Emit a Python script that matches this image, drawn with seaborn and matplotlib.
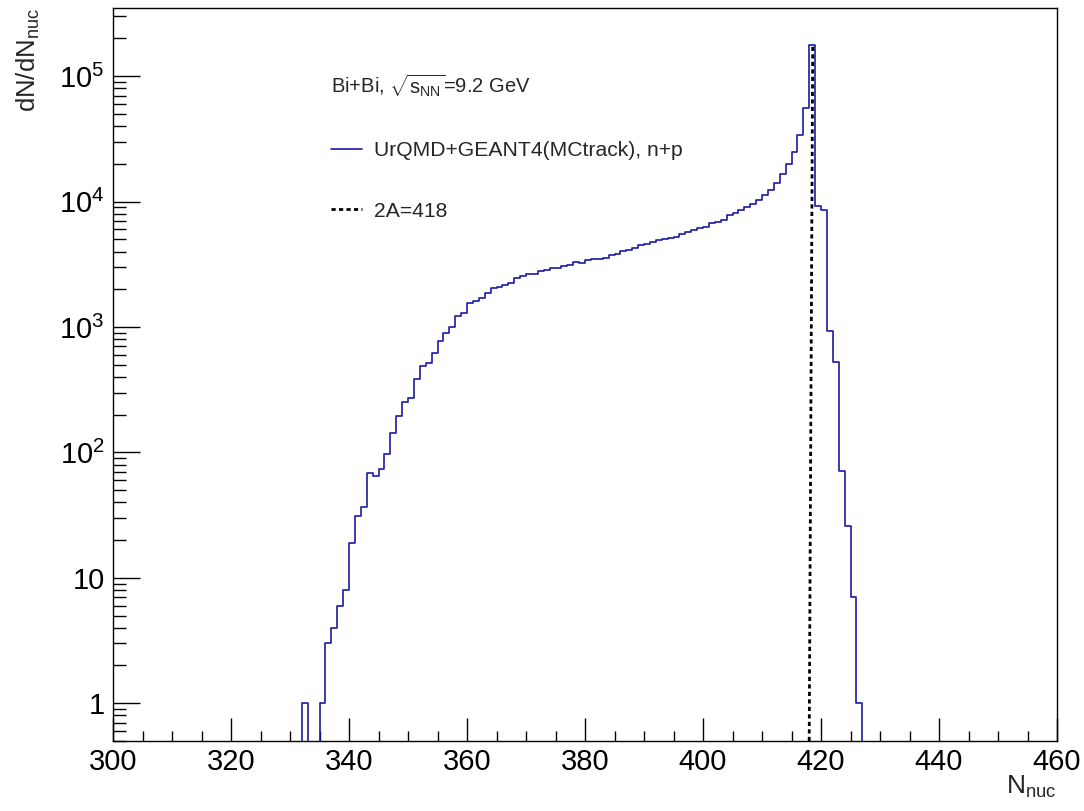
import numpy as np
import pandas as pd
import matplotlib
matplotlib.use("Agg")
import matplotlib.pyplot as plt
import seaborn as sns
from matplotlib.lines import Line2D
from matplotlib.ticker import LogLocator, MultipleLocator, FuncFormatter, NullFormatter

# number of nucleons (bin left edge, bin width 1) and entries per bin
n_nuc = list(range(332, 427))
counts = [
    1, 0, 0, 1, 3, 4, 6, 8, 19, 31,                          # 332-341
    37, 68, 65, 74, 97, 143, 194, 254, 273, 385,             # 342-351
    485, 515, 620, 772, 894, 1009, 1235, 1292, 1541, 1610,   # 352-361
    1690, 1862, 2040, 2090, 2168, 2262, 2450, 2540, 2635, 2635,  # 362-371
    2800, 2870, 2930, 2930, 3070, 3140, 3300, 3220, 3430, 3490,  # 372-381
    3490, 3550, 3760, 3830, 4040, 4100, 4250, 4480, 4600, 4800,  # 382-391
    4900, 5000, 5120, 5250, 5520, 5720, 5990, 6200, 6280, 6800,  # 392-401
    6860, 7150, 7860, 8150, 8600, 9100, 9650, 10300, 11200, 12300,  # 402-411
    14100, 16600, 19900, 25000, 34000, 55500, 178000, 9300, 8600, 930,  # 412-421
    524, 71, 26, 7, 1,                                       # 422-426
]
a2 = 418          # 2A for Bi+Bi
x_range = (300, 460)
y_range = (0.5, 3.5e5)

label_sys = r"Bi+Bi, $\sqrt{s_{NN}}$=9.2 GeV"
label_hist = "UrQMD+GEANT4(MCtrack), n+p"
label_line = "2A=418"

hist_color = "#1a1aa6"

sns.set_theme(style="white")
plt.rcParams["font.family"] = ["Liberation Sans", "DejaVu Sans"]
plt.rcParams["mathtext.fontset"] = "custom"
plt.rcParams["mathtext.rm"] = "Liberation Sans"
plt.rcParams["mathtext.it"] = "Liberation Sans:italic"
plt.rcParams["mathtext.default"] = "regular"

df = pd.DataFrame({"n_nuc": n_nuc, "counts": counts})

fig, ax = plt.subplots(figsize=(10.84, 8.11), dpi=100)
fig.subplots_adjust(left=113 / 1084, right=1057 / 1084, bottom=1 - 741 / 811, top=1 - 8 / 811)

sns.histplot(data=df, x="n_nuc", weights="counts",
             binwidth=1, binrange=x_range,
             element="step", fill=False, color=hist_color, linewidth=1.2, ax=ax)

ax.set_yscale("log")
ax.set_xlim(*x_range)
ax.set_ylim(*y_range)

# 2A line, it leans slightly in the original plot
lean = 0.6
ax.plot([a2, a2 + lean], [y_range[0], max(counts)], color="black",
        lw=2, linestyle=(0, (1.5, 1.2)))

# axes styling (ROOT look)
for s in ax.spines.values():
    s.set_color("black")
    s.set_linewidth(1.0)
ax.xaxis.set_major_locator(MultipleLocator(20))
ax.xaxis.set_minor_locator(MultipleLocator(5))
ax.yaxis.set_major_locator(LogLocator(base=10, numticks=10))
ax.yaxis.set_minor_locator(LogLocator(base=10, subs=np.arange(2, 10), numticks=20))
ax.yaxis.set_minor_formatter(NullFormatter())


def log_fmt(v, pos):
    e = int(round(np.log10(v)))
    if e == 0:
        return "1"
    if e == 1:
        return "10"
    return r"$10^{%d}$" % e


ax.yaxis.set_major_formatter(FuncFormatter(log_fmt))
ax.tick_params(axis="both", which="both", direction="in", bottom=True, left=True,
               top=False, right=False, colors="black", width=1.0, labelsize=21)
ax.tick_params(axis="x", which="major", length=16.5, pad=5)
ax.tick_params(axis="x", which="minor", length=7.5)
ax.tick_params(axis="y", which="major", length=19.5, pad=6)
ax.tick_params(axis="y", which="minor", length=9.5)

ax.set_xlabel(r"N$_{nuc}$", fontsize=19, loc="right")
ax.xaxis.set_label_coords(1.0, -0.045)
ax.xaxis.label.set_va("top")
ax.set_ylabel(r"dN/dN$_{nuc}$", fontsize=18.5, loc="top")
ax.yaxis.set_label_coords(-0.075, 1.0)

handles = [Line2D([], [], color=hist_color, lw=1.2),
           Line2D([], [], color="black", lw=2, linestyle=(0, (1.5, 1.2)))]
leg = ax.legend(handles, [label_hist, label_line], title=label_sys,
                loc="upper left", bbox_to_anchor=(0.2309, 0.912),
                frameon=False, fontsize=15.2, title_fontsize=14.5,
                alignment="left", borderpad=0, borderaxespad=0,
                labelspacing=1.97, handlelength=1.47, handletextpad=0.57)

fig.savefig("out.png", dpi=100)
